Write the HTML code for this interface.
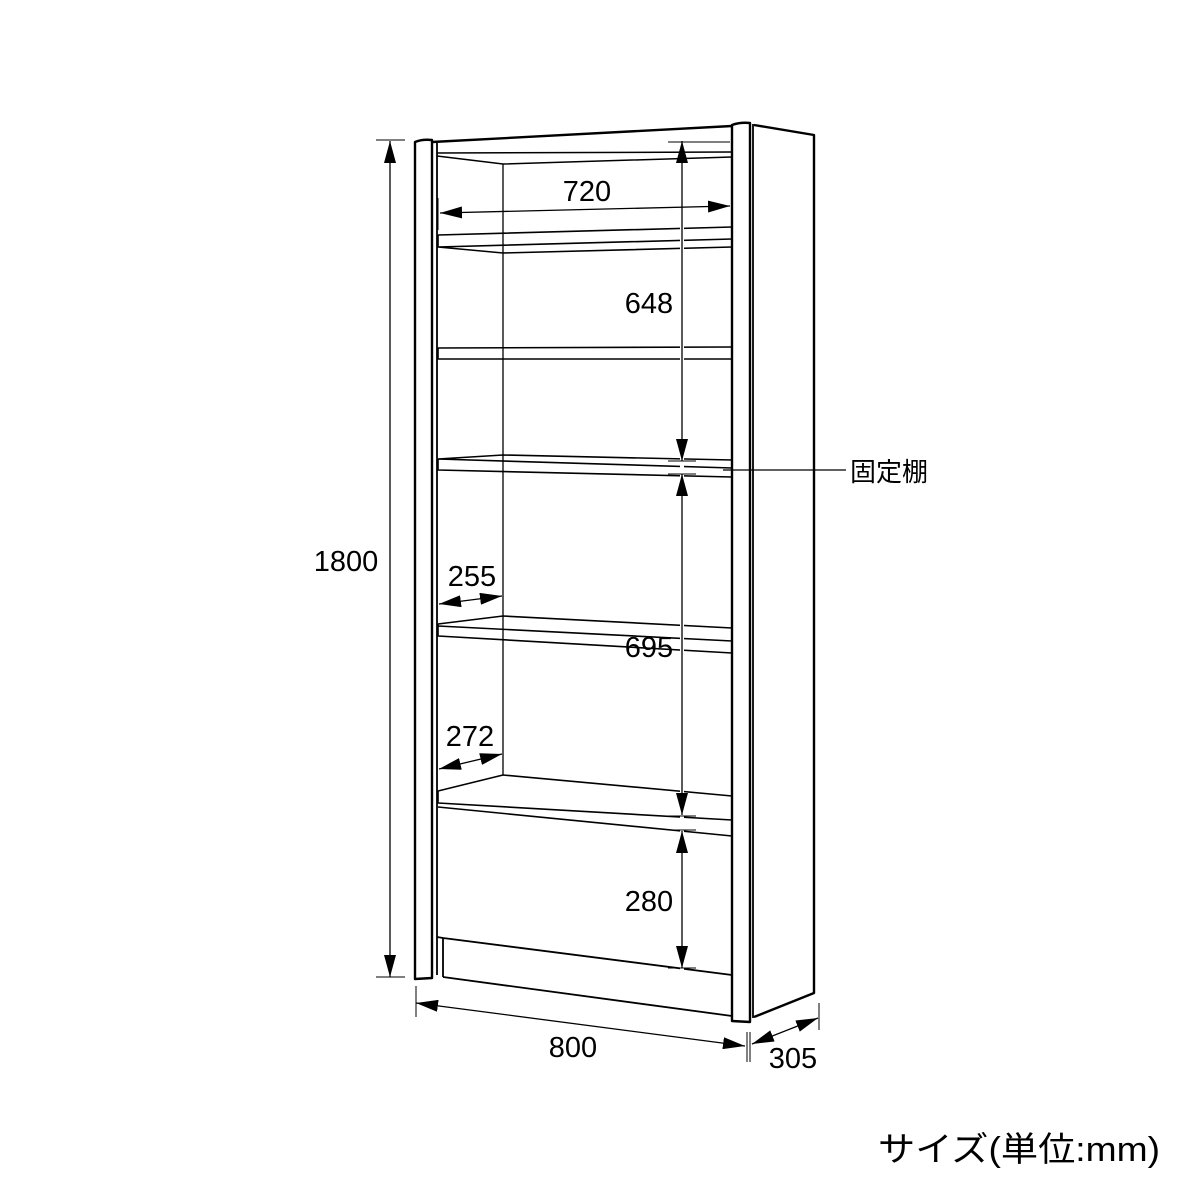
<!DOCTYPE html>
<html><head><meta charset="utf-8"><style>
html,body{margin:0;padding:0;background:#fff;}
svg{display:block}
text{font-family:"Liberation Sans","Noto Sans CJK JP",sans-serif;fill:#000}
</style></head><body>
<svg width="1200" height="1200" viewBox="0 0 1200 1200" xmlns="http://www.w3.org/2000/svg">
<defs>
<marker id="a" viewBox="0 0 22 12" refX="22" refY="6" markerWidth="22" markerHeight="12" markerUnits="userSpaceOnUse" orient="auto-start-reverse">
<path d="M0,0 L22,6 L0,12 z" fill="#000"/></marker>
</defs>
<g fill="none" stroke="#000" stroke-width="2.4" stroke-linejoin="round">
<!-- left post -->
<path d="M415,979 L415,142 Q422,139 432,140 L432,978 Z"/>
<line x1="437" y1="143" x2="437" y2="975" stroke-width="1.8"/>
<!-- right post -->
<path d="M732,1021 L732,125 Q740,122 750,123 L750,1022 Z"/>
<line x1="753" y1="124" x2="753" y2="1018" stroke-width="1.8"/>
<!-- side -->
<path d="M754,125 L814,135 L814,993 L754,1017"/>
<!-- top -->
<line x1="432" y1="142" x2="732" y2="126"/>
<line x1="437" y1="153" x2="732" y2="152" stroke-width="1.5"/>
<polyline points="437,156 503,164 732,157" stroke-width="1.5"/>
<!-- back vertical -->
<line x1="503" y1="164" x2="503" y2="775" stroke-width="1.3"/>
<!-- shelf 1 -->
<path d="M438,235 L732,227 M438,235 L438,247 L732,239 M438,247 L503,253 L732,247" stroke-width="1.6"/>
<!-- shelf 2 -->
<path d="M438,348 L732,347 M438,348 L438,359 L732,359" stroke-width="1.6"/>
<!-- fixed shelf -->
<path d="M438,459 L503,455 L732,460 M438,459 L438,470 L732,477 M438,459 L732,468" stroke-width="1.6"/>
<!-- shelf 4 -->
<path d="M438,624 L503,616 L732,628 M438,624 L438,636 L732,653 M438,626 L732,641" stroke-width="1.6"/>
<!-- bottom shelf -->
<path d="M438,791 L503,775 L732,796 M438,791 L438,803 L732,820 M438,807 L732,836" stroke-width="1.6"/>
<!-- plinth -->
<path d="M437,937 L443,938 L443,977 M443,938 L732,975 M443,977 L732,1016" stroke-width="1.8"/>
</g>
<g stroke="#fff" stroke-width="4">
<line x1="682" y1="140" x2="682" y2="975"/>
</g>
<g fill="none" stroke="#000" stroke-width="1.3">
<line x1="440" y1="213" x2="730" y2="206" marker-start="url(#a)" marker-end="url(#a)"/>
<line x1="438" y1="198" x2="438" y2="230" stroke-width="1"/>
<line x1="682" y1="141" x2="682" y2="461" marker-start="url(#a)" marker-end="url(#a)"/>
<line x1="668" y1="142" x2="730" y2="142" stroke-width="1"/>
<line x1="682" y1="474" x2="682" y2="815" marker-start="url(#a)" marker-end="url(#a)"/>
<line x1="682" y1="831" x2="682" y2="968" marker-start="url(#a)" marker-end="url(#a)"/>
<line x1="668" y1="968" x2="696" y2="968" stroke-width="1"/>
<line x1="668" y1="461" x2="696" y2="461" stroke-width="1"/>
<line x1="668" y1="474" x2="696" y2="474" stroke-width="1"/>
<line x1="668" y1="816" x2="696" y2="816" stroke-width="1"/>
<line x1="668" y1="830" x2="696" y2="830" stroke-width="1"/>
<line x1="723" y1="470" x2="846" y2="470"/>
<line x1="439" y1="604" x2="502" y2="596" marker-start="url(#a)" marker-end="url(#a)"/>
<line x1="503" y1="580" x2="503" y2="615" stroke-width="1"/>
<line x1="439" y1="769" x2="502" y2="754" marker-start="url(#a)" marker-end="url(#a)"/>
<line x1="390" y1="141" x2="390" y2="977" marker-start="url(#a)" marker-end="url(#a)"/>
<line x1="376" y1="140" x2="405" y2="140" stroke-width="1"/>
<line x1="376" y1="977" x2="405" y2="977" stroke-width="1"/>
<line x1="416" y1="1003" x2="745" y2="1046" marker-start="url(#a)" marker-end="url(#a)"/>
<line x1="416" y1="986" x2="416" y2="1017" stroke-width="1"/>
<line x1="747" y1="1032" x2="747" y2="1062" stroke-width="1"/>
<line x1="750" y1="1032" x2="750" y2="1062" stroke-width="1"/>
<line x1="752" y1="1044" x2="818" y2="1018" marker-start="url(#a)" marker-end="url(#a)"/>
<line x1="819" y1="1003" x2="819" y2="1030" stroke-width="1"/>
</g>
<g font-size="29">
<text x="587" y="201" text-anchor="middle">720</text>
<text x="649" y="313" text-anchor="middle">648</text>
<text x="649" y="657" text-anchor="middle">695</text>
<text x="649" y="911" text-anchor="middle">280</text>
<text x="472" y="586" text-anchor="middle">255</text>
<text x="470" y="746" text-anchor="middle">272</text>
<text x="346" y="571" text-anchor="middle">1800</text>
<text x="573" y="1057" text-anchor="middle">800</text>
<text x="793" y="1068" text-anchor="middle">305</text>
<text x="850" y="481" font-size="26">固定棚</text>
</g>
<text x="878" y="1161" font-size="34" textLength="282" lengthAdjust="spacingAndGlyphs">サイズ(単位:mm)</text>
</svg>
</body></html>
